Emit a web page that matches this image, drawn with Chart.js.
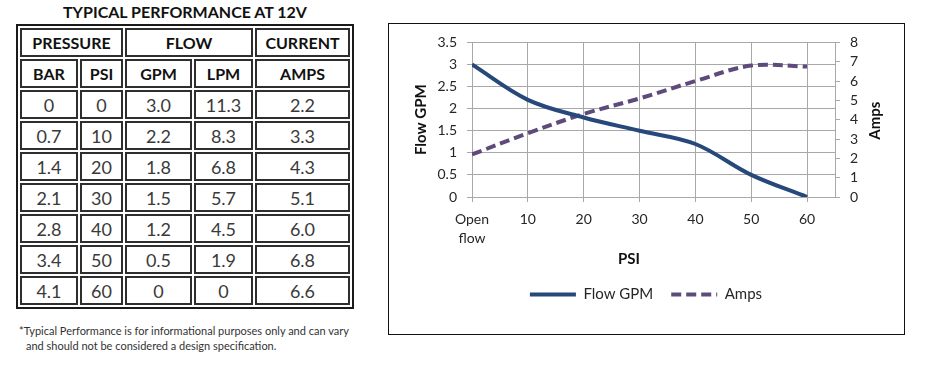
<!DOCTYPE html>
<html>
<head>
<meta charset="utf-8">
<script src="https://cdn.jsdelivr.net/npm/chart.js@4.4.1/dist/chart.umd.min.js"></script>
<style>
  html, body { margin:0; padding:0; background:#fff; }
  body { width:930px; height:376px; position:relative; overflow:hidden; font-family:Lato, "Open Sans", sans-serif; }
  #title { position:absolute; left:16px; top:3px; width:338px; text-align:center; font-weight:bold; font-size:16px; line-height:18px; color:#111; }
  #perf { position:absolute; left:16px; top:24px; width:338px; height:285px; border-collapse:separate; border-spacing:2px; border:2px solid #1a1a1a; table-layout:fixed; box-sizing:border-box; }
  #perf td { border:2px solid #2e2e2e; text-align:center; vertical-align:middle; padding:0; font-size:18px; color:#3a3a3a; box-sizing:border-box; }
  #perf tr { height:29px; }
  #perf td.h { font-weight:bold; font-size:16px; color:#111; }
  .note { position:absolute; font-size:11px; line-height:14px; color:#333; white-space:nowrap; }
  #box { position:absolute; left:388px; top:23px; width:517px; height:312px; border:1px solid #111; box-sizing:border-box; }
  #chart { position:absolute; left:389px; top:24px; }
</style>
</head>
<body>
<div id="title">TYPICAL PERFORMANCE AT 12V</div>
<table id="perf">
  <colgroup><col style="width:58px"><col style="width:43px"><col style="width:67px"><col style="width:59px"><col style="width:95px"></colgroup>
  <tbody id="tbody"></tbody>
</table>
<div class="note" style="left:19px; top:324px;">*Typical Performance is for informational purposes only and can vary</div>
<div class="note" style="left:26px; top:339px;">and should not be considered a design specification.</div>
<div id="box"></div>
<canvas id="chart" width="514" height="309"></canvas>
<script>
// ---- data ----
const groupHeaders = [["PRESSURE", 2], ["FLOW", 2], ["CURRENT", 1]];
const columnHeaders = ["BAR", "PSI", "GPM", "LPM", "AMPS"];
const barValues  = ["0", "0.7", "1.4", "2.1", "2.8", "3.4", "4.1"];
const psiValues  = [0, 10, 20, 30, 40, 50, 60];
const gpmValues  = ["3.0", "2.2", "1.8", "1.5", "1.2", "0.5", "0"];
const lpmValues  = ["11.3", "8.3", "6.8", "5.7", "4.5", "1.9", "0"];
const ampValues  = ["2.2", "3.3", "4.3", "5.1", "6.0", "6.8", "6.6"];
const xTickLabels = [["Open", "flow"], "10", "20", "30", "40", "50", "60"];
const flowCurve = [3.0, 2.2, 1.8, 1.5, 1.2, 0.5, 0];
const ampsCurve = [2.2, 3.3, 4.3, 5.1, 6.0, 6.8, 6.75];

// ---- table ----
const tb = document.getElementById('tbody');
let tr = document.createElement('tr');
groupHeaders.forEach(([t, span]) => {
  const td = document.createElement('td'); td.className = 'h'; td.colSpan = span; td.textContent = t; tr.appendChild(td);
});
tb.appendChild(tr);
tr = document.createElement('tr');
columnHeaders.forEach(t => { const td = document.createElement('td'); td.className = 'h'; td.textContent = t; tr.appendChild(td); });
tb.appendChild(tr);
barValues.forEach((b, i) => {
  const r = document.createElement('tr');
  [b, String(psiValues[i]), gpmValues[i], lpmValues[i], ampValues[i]].forEach(t => {
    const td = document.createElement('td'); td.textContent = t; r.appendChild(td);
  });
  tb.appendChild(r);
});

// ---- chart ----
const FLOW = '#26487a';
const AMPS = '#5f4a7c';
const GRID = '#a8a8a8';
const TXT = '#262626';
Chart.defaults.font.family = 'Lato';

const titlePlugin = {
  id: 'extraTitles',
  afterDraw(chart) {
    const {ctx, chartArea} = chart;
    ctx.save();
    ctx.fillStyle = '#111';
    ctx.font = 'bold 15px Lato';
    ctx.textAlign = 'center';
    ctx.textBaseline = 'middle';
    ctx.fillText('PSI', 240, 235);
    ctx.translate(486, (chartArea.top + chartArea.bottom) / 2 + 1);
    ctx.rotate(-Math.PI / 2);
    ctx.fillText('Amps', 0, 0);
    ctx.restore();
  }
};

new Chart(document.getElementById('chart'), {
  type: 'line',
  data: {
    datasets: [
      { label: 'Flow GPM', data: psiValues.map((p, i) => ({x: p, y: flowCurve[i]})),
        borderColor: FLOW, backgroundColor: FLOW, borderWidth: 4, pointRadius: 0, tension: 0.35, yAxisID: 'y', fill: false },
      { label: 'Amps', data: psiValues.map((p, i) => ({x: p, y: ampsCurve[i]})),
        borderColor: AMPS, backgroundColor: AMPS, borderWidth: 4, borderDash: [10, 5], pointRadius: 0, tension: 0.35, yAxisID: 'y1', fill: false }
    ]
  },
  options: {
    responsive: false, animation: false, devicePixelRatio: 1,
    layout: { padding: { top: 18, left: 0, right: 0, bottom: 21 } },
    plugins: {
      tooltip: { enabled: false },
      legend: {
        position: 'bottom',
        labels: {
          usePointStyle: true, pointStyleWidth: 46, boxHeight: 15, padding: 18,
          font: { family: 'Lato', size: 15 }, color: TXT,
          generateLabels: (chart) => chart.data.datasets.map((ds, i) => ({
            text: ds.label, fillStyle: ds.borderColor, strokeStyle: ds.borderColor,
            lineWidth: 4, lineDash: ds.borderDash || [], lineCap: 'butt',
            pointStyle: 'line', fontColor: TXT, hidden: false, datasetIndex: i
          }))
        }
      }
    },
    scales: {
      x: {
        type: 'linear', min: 0, max: 65,
        afterBuildTicks: (s) => { s.ticks = psiValues.map(v => ({ value: v })); },
        ticks: { padding: 8, color: TXT, font: { size: 14, lineHeight: 1.35 }, maxRotation: 0, autoSkip: false,
                 callback: (v) => { const k = psiValues.indexOf(v); return k >= 0 ? xTickLabels[k] : ''; } },
        grid: { color: GRID, tickLength: 5 },
        border: { color: GRID },
        afterFit: (s) => { s.height = 72; }
      },
      y: {
        position: 'left', min: 0, max: 3.5,
        ticks: { stepSize: 0.5, padding: 10, color: TXT, font: { size: 14 }, autoSkip: false,
                 callback: (v) => String(Math.round(v * 10) / 10) },
        grid: { color: GRID, tickLength: 5 },
        border: { color: GRID },
        title: { display: true, text: 'Flow GPM', color: '#111', font: { size: 15, weight: 'bold' }, padding: { top: 23, bottom: 0 } },
        afterFit: (s) => { s.width = 83; }
      },
      y1: {
        position: 'right', min: 0, max: 8,
        ticks: { stepSize: 1, padding: 10, color: TXT, font: { size: 14 }, autoSkip: false,
                 callback: (v) => String(v) },
        grid: { drawOnChartArea: false, color: GRID, tickLength: 5 },
        border: { color: GRID },
        afterFit: (s) => { s.width = 68; }
      }
    }
  },
  plugins: [titlePlugin]
});
</script>
</body>
</html>
